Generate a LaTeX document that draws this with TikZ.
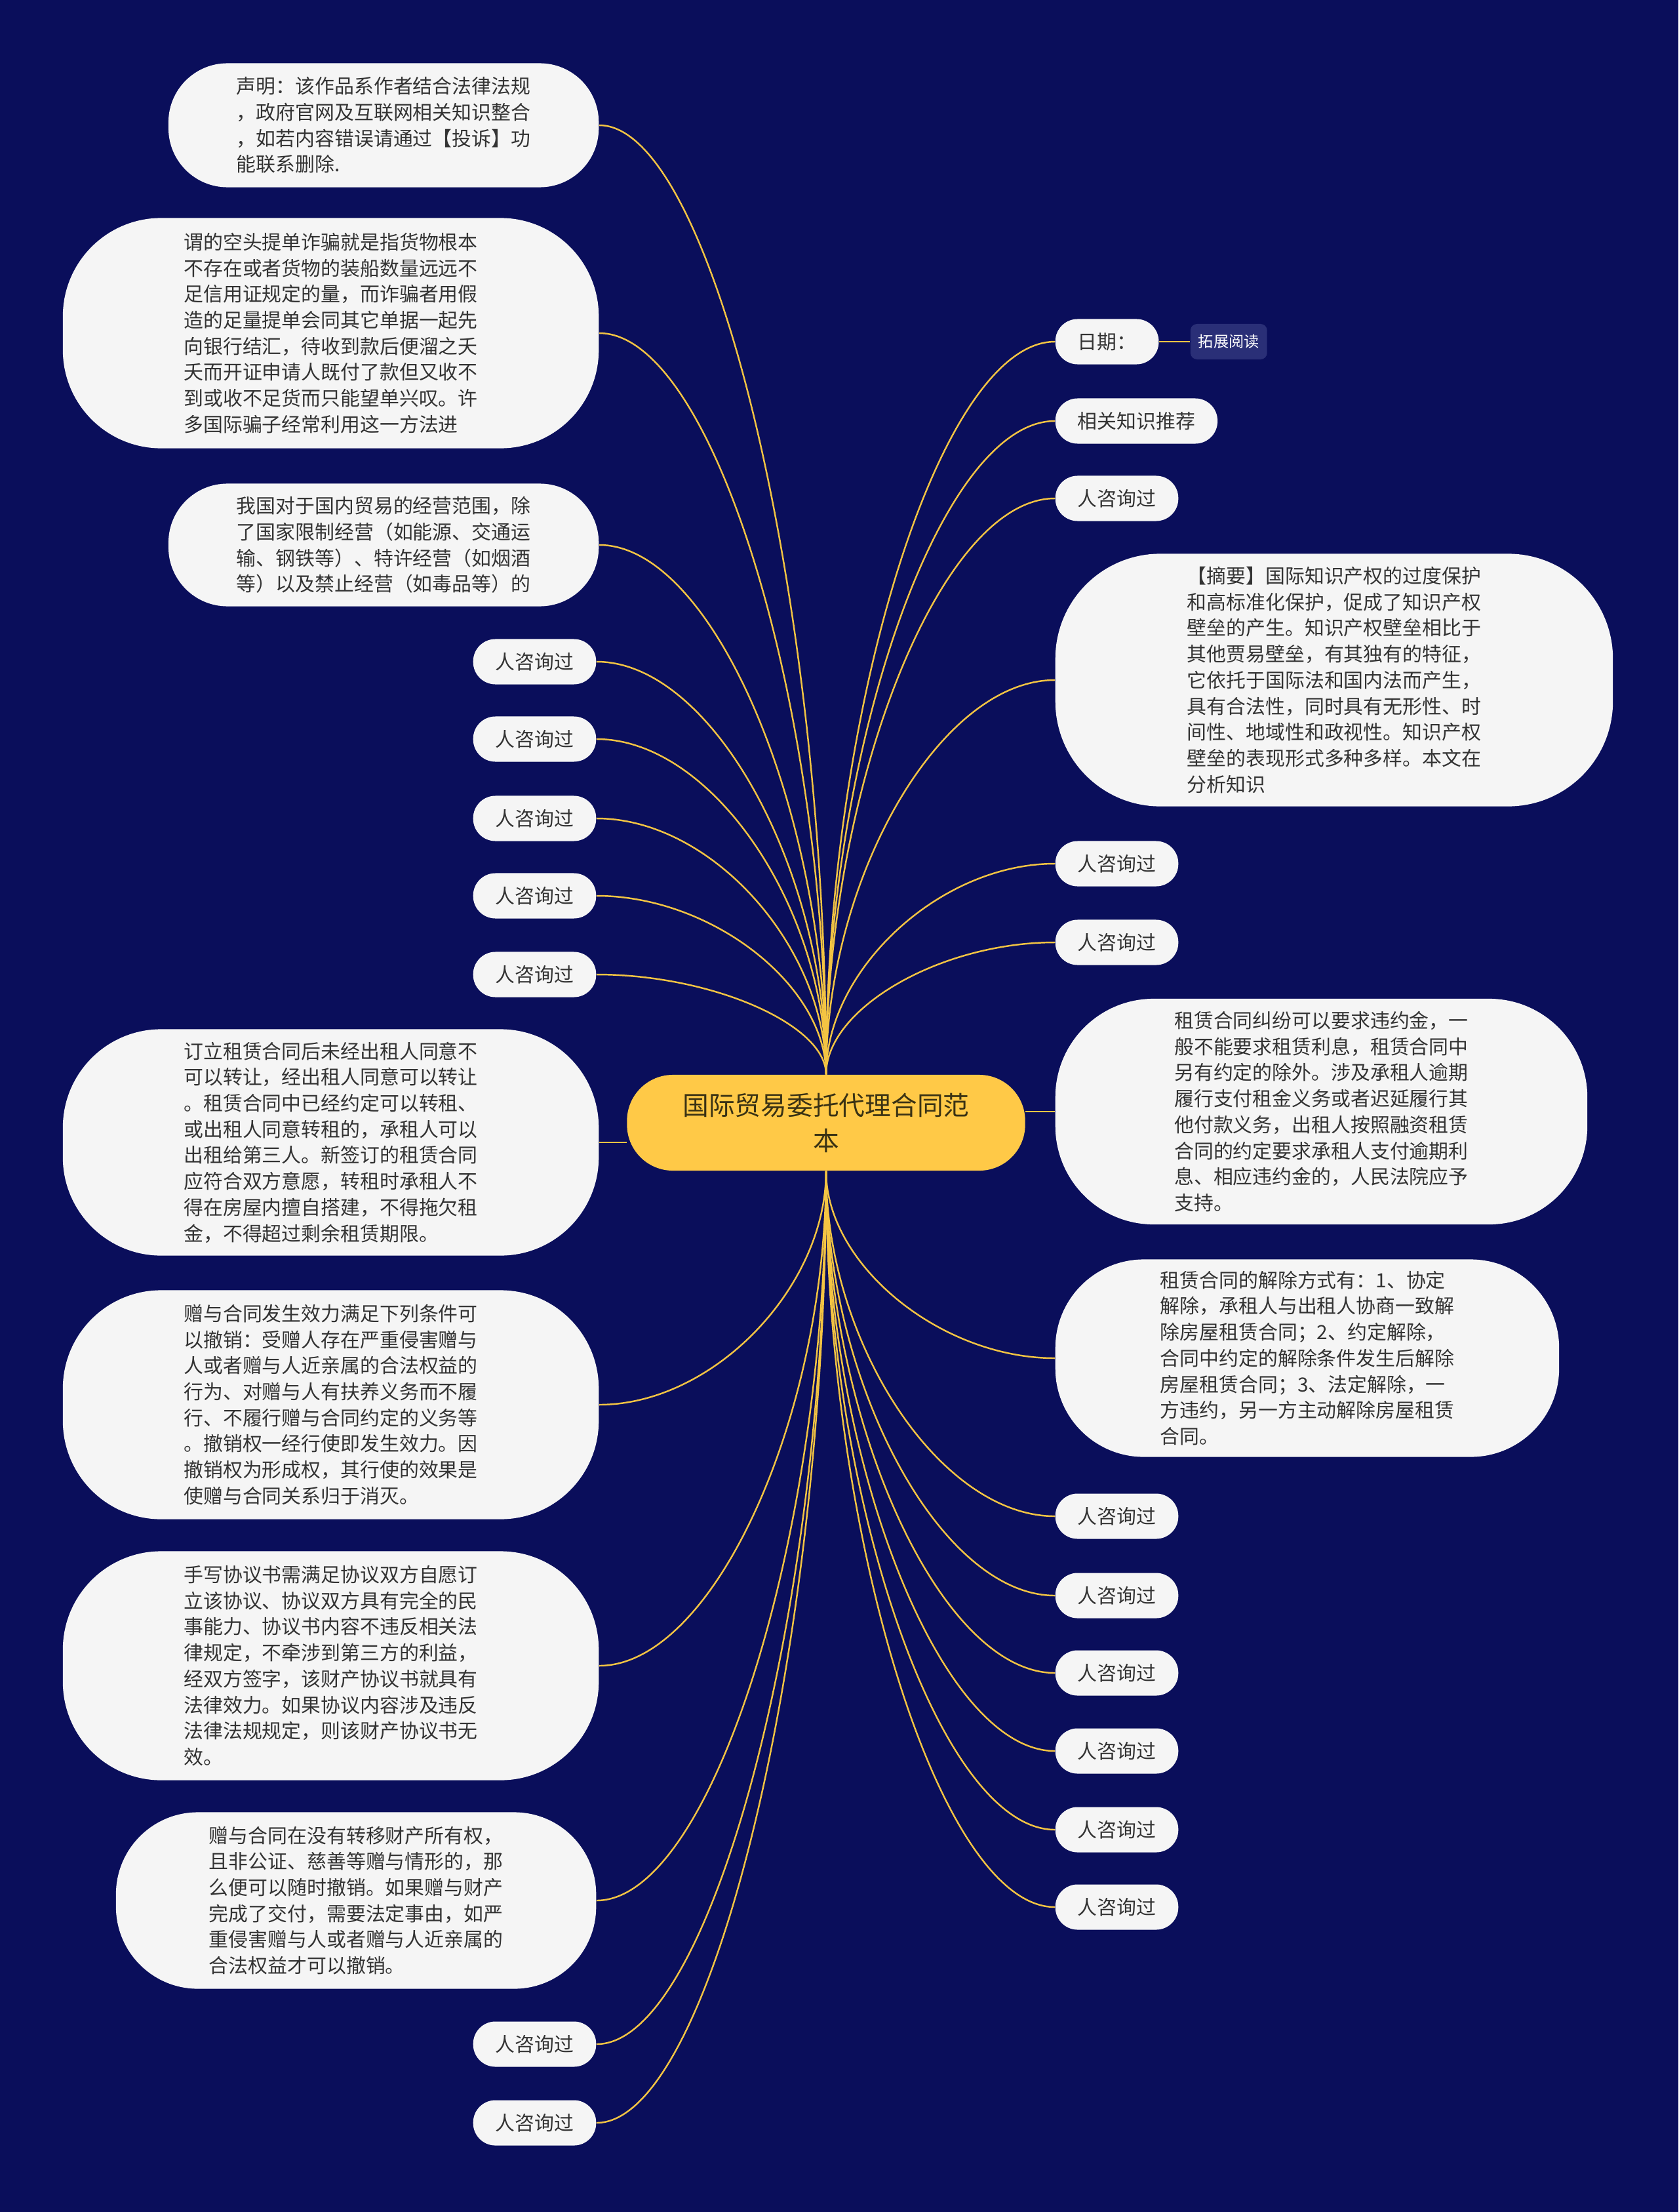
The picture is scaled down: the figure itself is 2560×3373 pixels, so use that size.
\documentclass[tikz,border=0pt]{standalone}
\usepackage{fontspec}
\setmainfont{Noto Sans CJK SC}
\usetikzlibrary{positioning,calc,backgrounds}
\definecolor{navy}{HTML}{0A0E5B}
\definecolor{gold}{HTML}{F3C443}
\definecolor{rootfill}{HTML}{FFC947}
\definecolor{rootink}{HTML}{3A3214}
\definecolor{cardfill}{HTML}{F5F5F5}
\definecolor{ink}{HTML}{333333}
\definecolor{tagfill}{HTML}{2A2F77}

\begin{document}
\begin{tikzpicture}[
  x=0.01cm, y=-0.01cm,
  font=\fontsize{8.5}{11.3}\selectfont,
  root/.style={fill=rootfill, text=rootink, rounded corners=7mm, align=center, inner sep=0pt,
    minimum width=60.7mm, minimum height=14.6mm, font=\fontsize{11.3}{15.3}\selectfont},
  card/.style={fill=cardfill, text=ink, rounded corners=9mm, align=left, inner sep=0pt},
  leaf/.style={fill=cardfill, text=ink, rounded corners=3.4mm, inner xsep=3.4mm, inner ysep=0pt,
    minimum height=6.9mm},
  tag/.style={fill=tagfill, text=white, rounded corners=1mm, inner xsep=1.2mm,
    minimum height=5.4mm, font=\fontsize{6.6}{8}\selectfont},
  link/.style={draw=gold, line width=0.7pt},
  branch/.style={to path={.. controls ($(\tikztostart)!0.5!(\tikztostart|-\tikztotarget)$)
    and ($(\tikztotarget)!0.5!(\tikztotarget-|\tikztostart)$) .. (\tikztotarget)}}
]
\useasboundingbox (0,0) rectangle (2560,3373);
\begin{scope}[on background layer]
  \fill[navy] (0,0) rectangle (2560,3373);
\end{scope}

% centre
\node[root] (root) at (1260,1712) {国际贸易委托代理合同范\\本};

% left side
\node[card, anchor=east, minimum width=65.6mm, minimum height=18.9mm] (decl) at (914,191)
  {声明：该作品系作者结合法律法规\\，政府官网及互联网相关知识整合\\，如若内容错误请通过【投诉】功\\能联系删除.};
\node[card, anchor=east, minimum width=81.7mm, minimum height=35.1mm, rounded corners=15mm] (fraud) at (914,508)
  {谓的空头提单诈骗就是指货物根本\\不存在或者货物的装船数量远远不\\足信用证规定的量，而诈骗者用假\\造的足量提单会同其它单据一起先\\向银行结汇，待收到款后便溜之夭\\夭而开证申请人既付了款但又收不\\到或收不足货而只能望单兴叹。许\\多国际骗子经常利用这一方法进};
\node[card, anchor=east, minimum width=65.6mm, minimum height=18.7mm] (scope) at (914,831)
  {我国对于国内贸易的经营范围，除\\了国家限制经营（如能源、交通运\\输、钢铁等）、特许经营（如烟酒\\等）以及禁止经营（如毒品等）的};
\foreach \y [count=\i] in {1009,1127,1248,1366,1486}
  \node[leaf, anchor=east] (l\i) at (910,\y) {人咨询过};
\node[card, anchor=east, minimum width=81.7mm, minimum height=34.5mm, rounded corners=15mm] (sublet) at (914,1742)
  {订立租赁合同后未经出租人同意不\\可以转让，经出租人同意可以转让\\。租赁合同中已经约定可以转租、\\或出租人同意转租的，承租人可以\\出租给第三人。新签订的租赁合同\\应符合双方意愿，转租时承租人不\\得在房屋内擅自搭建，不得拖欠租\\金，不得超过剩余租赁期限。};
\node[card, anchor=east, minimum width=81.7mm, minimum height=34.9mm, rounded corners=15mm] (revoke) at (914,2142)
  {赠与合同发生效力满足下列条件可\\以撤销：受赠人存在严重侵害赠与\\人或者赠与人近亲属的合法权益的\\行为、对赠与人有扶养义务而不履\\行、不履行赠与合同约定的义务等\\。撤销权一经行使即发生效力。因\\撤销权为形成权，其行使的效果是\\使赠与合同关系归于消灭。};
\node[card, anchor=east, minimum width=81.7mm, minimum height=34.9mm, rounded corners=15mm] (handw) at (914,2540)
  {手写协议书需满足协议双方自愿订\\立该协议、协议双方具有完全的民\\事能力、协议书内容不违反相关法\\律规定，不牵涉到第三方的利益，\\经双方签字，该财产协议书就具有\\法律效力。如果协议内容涉及违反\\法律法规规定，则该财产协议书无\\效。};
\node[card, anchor=east, minimum width=73.2mm, minimum height=26.9mm, rounded corners=12.5mm] (gift) at (910,2898)
  {赠与合同在没有转移财产所有权，\\且非公证、慈善等赠与情形的，那\\么便可以随时撤销。如果赠与财产\\完成了交付，需要法定事由，如严\\重侵害赠与人或者赠与人近亲属的\\合法权益才可以撤销。};
\node[leaf, anchor=east] (l6) at (910,3117) {人咨询过};
\node[leaf, anchor=east] (l7) at (910,3237) {人咨询过};

% right side
\node[leaf, anchor=west] (date) at (1609,521) {日期：};
\node[tag, right=4.7mm of date] (more) {拓展阅读};
\node[leaf, anchor=west] (rec) at (1609,642) {相关知识推荐};
\node[leaf, anchor=west] (r1) at (1609,760) {人咨询过};
\node[card, anchor=west, minimum width=85mm, minimum height=38.5mm, rounded corners=16mm] (abs) at (1609,1037)
  {【摘要】国际知识产权的过度保护\\和高标准化保护，促成了知识产权\\壁垒的产生。知识产权壁垒相比于\\其他贾易壁垒，有其独有的特征，\\它依托于国际法和国内法而产生，\\具有合法性，同时具有无形性、时\\间性、地域性和政视性。知识产权\\壁垒的表现形式多种多样。本文在\\分析知识};
\node[leaf, anchor=west] (r2) at (1609,1317) {人咨询过};
\node[leaf, anchor=west] (r3) at (1609,1437) {人咨询过};
\node[card, anchor=west, minimum width=81.1mm, minimum height=34.4mm, rounded corners=15mm] (breach) at (1609,1695)
  {租赁合同纠纷可以要求违约金，一\\般不能要求租赁利息，租赁合同中\\另有约定的除外。涉及承租人逾期\\履行支付租金义务或者迟延履行其\\他付款义务，出租人按照融资租赁\\合同的约定要求承租人支付逾期利\\息、相应违约金的，人民法院应予\\支持。};
\node[card, anchor=west, minimum width=76.8mm, minimum height=30.1mm, rounded corners=13.5mm] (term) at (1609,2071)
  {租赁合同的解除方式有：1、协定\\解除，承租人与出租人协商一致解\\除房屋租赁合同；2、约定解除，\\合同中约定的解除条件发生后解除\\房屋租赁合同；3、法定解除，一\\方违约，另一方主动解除房屋租赁\\合同。};
\foreach \y [count=\i from 4] in {2312,2433,2551,2670,2790,2908}
  \node[leaf, anchor=west] (r\i) at (1609,\y) {人咨询过};

% connectors
\begin{scope}[on background layer]
  \foreach \n in {decl,fraud,scope,l1,l2,l3,l4,l5}
    \draw[link] (root.north) to[branch] (\n.east);
  \foreach \n in {revoke,handw,gift,l6,l7}
    \draw[link] (root.south) to[branch] (\n.east);
  \foreach \n in {date,rec,r1,abs,r2,r3}
    \draw[link] (root.north) to[branch] (\n.west);
  \foreach \n in {term,r4,r5,r6,r7,r8,r9}
    \draw[link] (root.south) to[branch] (\n.west);
  \draw[link] (sublet.east) -- (sublet.east -| root.west);
  \draw[link] (breach.west) -- (breach.west -| root.east);
  \draw[link] (date) -- (more);
\end{scope}
\end{tikzpicture}
\end{document}
